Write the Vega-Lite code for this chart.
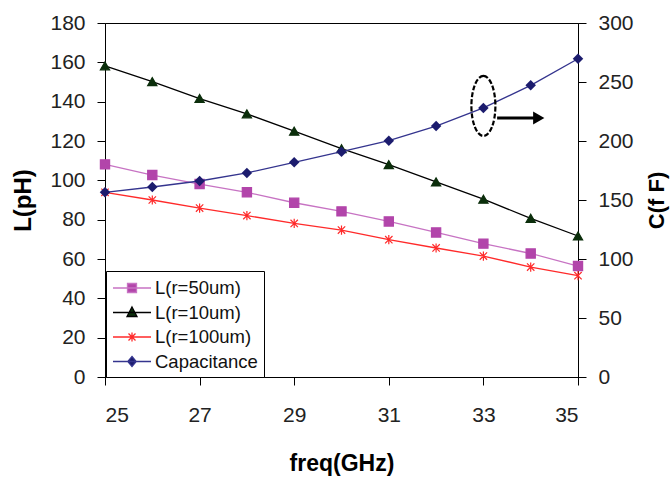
{
  "$schema": "https://vega.github.io/schema/vega-lite/v6.json",
  "width": 473,
  "height": 354,
  "autosize": "none",
  "padding": {"left": 105, "top": 23, "right": 94, "bottom": 101},
  "background": "white",
  "config": {
    "font": "Liberation Sans",
    "view": {"stroke": "black", "strokeWidth": 1},
    "axis": {
      "grid": false,
      "domainColor": "black",
      "tickColor": "black",
      "tickSize": 8,
      "labelFont": "Liberation Sans",
      "labelFontSize": 21,
      "labelColor": "#222222",
      "titleFont": "Liberation Sans",
      "titleFontSize": 23,
      "titleFontWeight": "bold",
      "titleColor": "black"
    }
  },
  "datasets": {
    "L": [
      {"freq": 25, "series": "L(r=50um)", "L": 108.1},
      {"freq": 26, "series": "L(r=50um)", "L": 102.7},
      {"freq": 27, "series": "L(r=50um)", "L": 98.1},
      {"freq": 28, "series": "L(r=50um)", "L": 93.9},
      {"freq": 29, "series": "L(r=50um)", "L": 88.6},
      {"freq": 30, "series": "L(r=50um)", "L": 84.2},
      {"freq": 31, "series": "L(r=50um)", "L": 79.1},
      {"freq": 32, "series": "L(r=50um)", "L": 73.5},
      {"freq": 33, "series": "L(r=50um)", "L": 67.8},
      {"freq": 34, "series": "L(r=50um)", "L": 62.8},
      {"freq": 35, "series": "L(r=50um)", "L": 56.4},
      {"freq": 25, "series": "L(r=10um)", "L": 158.2},
      {"freq": 26, "series": "L(r=10um)", "L": 150.2},
      {"freq": 27, "series": "L(r=10um)", "L": 141.6},
      {"freq": 28, "series": "L(r=10um)", "L": 133.8},
      {"freq": 29, "series": "L(r=10um)", "L": 125.0},
      {"freq": 30, "series": "L(r=10um)", "L": 116.1},
      {"freq": 31, "series": "L(r=10um)", "L": 108.0},
      {"freq": 32, "series": "L(r=10um)", "L": 99.2},
      {"freq": 33, "series": "L(r=10um)", "L": 90.4},
      {"freq": 34, "series": "L(r=10um)", "L": 80.7},
      {"freq": 35, "series": "L(r=10um)", "L": 71.7},
      {"freq": 25, "series": "L(r=100um)", "L": 93.9},
      {"freq": 26, "series": "L(r=100um)", "L": 90.0},
      {"freq": 27, "series": "L(r=100um)", "L": 85.9},
      {"freq": 28, "series": "L(r=100um)", "L": 82.1},
      {"freq": 29, "series": "L(r=100um)", "L": 78.1},
      {"freq": 30, "series": "L(r=100um)", "L": 74.7},
      {"freq": 31, "series": "L(r=100um)", "L": 69.8},
      {"freq": 32, "series": "L(r=100um)", "L": 65.6},
      {"freq": 33, "series": "L(r=100um)", "L": 61.5},
      {"freq": 34, "series": "L(r=100um)", "L": 55.9},
      {"freq": 35, "series": "L(r=100um)", "L": 51.5}
    ],
    "C": [
      {"freq": 25, "series": "Capacitance", "C": 156.5},
      {"freq": 26, "series": "Capacitance", "C": 161.0},
      {"freq": 27, "series": "Capacitance", "C": 166.1},
      {"freq": 28, "series": "Capacitance", "C": 172.9},
      {"freq": 29, "series": "Capacitance", "C": 181.9},
      {"freq": 30, "series": "Capacitance", "C": 190.9},
      {"freq": 31, "series": "Capacitance", "C": 200.3},
      {"freq": 32, "series": "Capacitance", "C": 212.7},
      {"freq": 33, "series": "Capacitance", "C": 228.0},
      {"freq": 34, "series": "Capacitance", "C": 247.2},
      {"freq": 35, "series": "Capacitance", "C": 269.7}
    ],
    "ellipse": [{"freq": 33, "C": 229.7}],
    "arrow": [{"from": 33.29, "to": 34.1, "C": 219.5}],
    "head": [{"freq": 34.17, "C": 219.5}]
  },
  "encoding": {
    "x": {
      "field": "freq",
      "type": "quantitative",
      "scale": {"domain": [25, 35], "nice": false, "zero": false},
      "axis": {"values": [25, 27, 29, 31, 33, 35], "title": "freq(GHz)", "labelPadding": 19, "titlePadding": 27}
    }
  },
  "layer": [
    {
      "data": {"name": "L"},
      "encoding": {
        "y": {
          "field": "L",
          "type": "quantitative",
          "scale": {"domain": [0, 180], "nice": false},
          "axis": {"orient": "left", "values": [0, 20, 40, 60, 80, 100, 120, 140, 160, 180], "title": "L(pH)", "titleFontSize": 24, "labelPadding": 12, "titlePadding": 14}
        }
      },
      "layer": [
        {
          "mark": {"type": "line", "strokeWidth": 1.3},
          "encoding": {
            "color": {
              "field": "series",
              "type": "nominal",
              "scale": {
                "domain": ["L(r=50um)", "L(r=10um)", "L(r=100um)", "Capacitance"],
                "range": ["#C773C3", "#000000", "#FF2A2A", "#34348E"]
              },
              "legend": {
                "title": null,
                "orient": "none",
                "legendX": 1,
                "legendY": 248,
                "padding": 6,
                "strokeColor": "black",
                "fillColor": "white",
                "labelFont": "Liberation Sans",
                "labelFontSize": 18.5,
                "labelColor": "#111111",
                "symbolSize": 400,
                "symbolOffset": 9,
                "labelOffset": 12,
                "rowPadding": 3.5,
                "symbolStrokeWidth": 1.3,
                "encode": {
                  "symbols": {
                    "update": {
                      "shape": {"signal": "datum.value === 'L(r=50um)' ? 'M-1.9,0H1.9M-0.45,-0.45H0.45V0.45H-0.45Z' : datum.value === 'L(r=10um)' ? 'M-1.9,0H1.9M0,-0.55L0.5,0.4H-0.5Z' : datum.value === 'L(r=100um)' ? 'M-1.9,0H1.9M-0.35,-0.35L0.35,0.35M-0.35,0.35L0.35,-0.35M0,-0.45V0.45' : 'M-1.9,0H1.9M0,-0.5L0.42,0L0,0.5L-0.42,0Z'"},
                      "fill": {"signal": "datum.value === 'L(r=50um)' ? '#B245AA' : datum.value === 'L(r=10um)' ? '#0B2E0B' : datum.value === 'L(r=100um)' ? 'transparent' : '#1C1C6E'"},
                      "stroke": {"signal": "datum.value === 'L(r=50um)' ? '#C773C3' : datum.value === 'L(r=10um)' ? '#000000' : datum.value === 'L(r=100um)' ? '#FF2A2A' : '#34348E'"},
                      "strokeWidth": {"value": 1.3}
                    }
                  }
                }
              }
            }
          }
        },
        {
          "mark": {"type": "point", "filled": true, "size": 85, "strokeWidth": 1.2, "opacity": 1},
          "encoding": {
            "shape": {
              "field": "series",
              "type": "nominal",
              "scale": {
                "domain": ["L(r=50um)", "L(r=10um)", "L(r=100um)"],
                "range": ["square", "triangle-up", "M-0.8,-0.8L0.8,0.8M-0.8,0.8L0.8,-0.8M0,-1V1"]
              },
              "legend": null
            },
            "fill": {
              "field": "series",
              "type": "nominal",
              "scale": {"domain": ["L(r=50um)", "L(r=10um)", "L(r=100um)"], "range": ["#B245AA", "#0B2E0B", "transparent"]},
              "legend": null
            },
            "stroke": {
              "field": "series",
              "type": "nominal",
              "scale": {"domain": ["L(r=50um)", "L(r=10um)", "L(r=100um)"], "range": ["#B245AA", "#0B2E0B", "#FF2A2A"]},
              "legend": null
            }
          }
        }
      ]
    },
    {
      "encoding": {
        "y": {
          "field": "C",
          "type": "quantitative",
          "scale": {"domain": [0, 300], "nice": false},
          "axis": {"orient": "right", "values": [0, 50, 100, 150, 200, 250, 300], "title": "C(f F)", "titleAngle": 270, "titleBaseline": "top", "titleFontSize": 22, "labelPadding": 12, "titlePadding": 13}
        }
      },
      "layer": [
        {
          "data": {"name": "C"},
          "mark": {"type": "line", "strokeWidth": 1.3},
          "encoding": {"color": {"field": "series", "type": "nominal"}}
        },
        {
          "data": {"name": "C"},
          "mark": {"type": "point", "shape": "diamond", "filled": true, "size": 110, "color": "#1C1C6E", "opacity": 1}
        },
        {
          "data": {"name": "ellipse"},
          "mark": {"type": "point", "shape": "M0,-1A0.4,1,0,1,1,0,1A0.4,1,0,1,1,0,-1Z", "size": 3600, "filled": false, "stroke": "black", "strokeWidth": 2.2, "strokeDash": [5, 2], "opacity": 1}
        },
        {
          "data": {"name": "arrow"},
          "mark": {"type": "rule", "color": "black", "strokeWidth": 3},
          "encoding": {"x": {"field": "from", "type": "quantitative"}, "x2": {"field": "to"}}
        },
        {
          "data": {"name": "head"},
          "mark": {"type": "point", "shape": "triangle-right", "filled": true, "color": "black", "size": 170, "opacity": 1}
        }
      ]
    }
  ],
  "resolve": {"scale": {"y": "independent"}}
}
